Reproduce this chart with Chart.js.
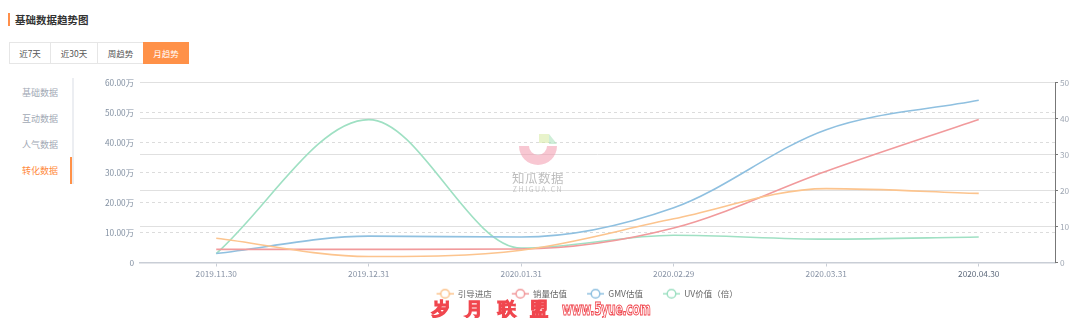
<!DOCTYPE html>
<html>
<head>
<meta charset="utf-8">
<script src="https://cdn.jsdelivr.net/npm/chart.js@4.4.0/dist/chart.umd.min.js"></script>
<style>
  body { margin: 0; width: 1080px; height: 318px; overflow: hidden; background: #fff;
         font-family: "Noto Sans CJK SC", "Noto Sans", sans-serif; position: relative; }
  .title { position: absolute; left: 8px; top: 13px; height: 13px; border-left: 2px solid #ff8f4a;
           padding-left: 5px; font-size: 10.5px; font-weight: bold; color: #333; line-height: 13px; }
  .tabs { position: absolute; left: 9px; top: 42px; display: flex; }
  .tabs div { height: 20px; line-height: 20px; border: 1px solid #e6e6e6; font-size: 8.5px; color: #555;
              text-align: center; margin-left: -1px; }
  .tabs .on { background: #ff9148; border-color: #ff9148; color: #fff; }
  .nav { position: absolute; left: 0; top: 78px; width: 72px; height: 106px; border-right: 2px solid #eceef2; }
  .nav div { position: absolute; left: 22px; font-size: 9px; color: #a2a9b5; }
  .nav .on { color: #ff8a3d; }
  .nav .bar { position: absolute; left: 70px; top: 79px; width: 2px; height: 27px; background: #ff9148; }
  #wrap { position: absolute; left: 90px; top: 72px; width: 990px; height: 236px; }
  .logo { position: absolute; left: 507px; top: 130px; width: 62px; text-align: center; opacity: 0.55; }
  .ring { position: absolute; left: 10px; top: 2px; width: 42px; height: 42px; }
  .logo .t1 { position: absolute; top: 38px; left: 0; width: 62px; font-size: 12.5px; color: #888; letter-spacing: 0.5px; white-space: nowrap; }
  .logo .t2 { position: absolute; top: 54px; left: 0; width: 62px; font-size: 7px; color: #999; letter-spacing: 1.5px; white-space: nowrap; }
  .wm { position: absolute; left: 432px; top: 297px; font-size: 18px; font-weight: bold; color: #fff;
        -webkit-text-stroke: 1.2px #f0464e; white-space: nowrap; font-family: "DejaVu Sans", sans-serif; }
  .wm span { display: inline-block; }
  .wm .url { transform: scaleX(0.6); transform-origin: 0 50%; letter-spacing: -0.5px; }
</style>
</head>
<body>
<div class="title">基础数据趋势图</div>
<div class="tabs">
  <div style="width:40px;margin-left:0">近7天</div>
  <div style="width:46px">近30天</div>
  <div style="width:45px">周趋势</div>
  <div class="on" style="width:44px">月趋势</div>
</div>
<div class="nav">
  <div style="top:8px">基础数据</div>
  <div style="top:34px">互动数据</div>
  <div style="top:60px">人气数据</div>
  <div class="on" style="top:86px">转化数据</div>
  <span class="bar"></span>
</div>
<div id="wrap"><canvas id="trendChart"></canvas></div>
<div class="logo">
  <svg class="ring" viewBox="0 0 42 42">
    <path d="M2 14 A19 19 0 0 0 40 14 L30 14 A9 9 0 0 1 12 14 Z" fill="#f29aae"/>
    <rect x="22" y="2" width="10" height="9" fill="#d6eaa0"/>
    <path d="M32 2 L40 12 L32 12 Z" fill="#a8e0b8"/>
  </svg>
  <div class="t1">知瓜数据</div>
  <div class="t2">ZHIGUA.CN</div>
</div>
<div class="wm"><span style="width:33px">岁</span><span style="width:33px">月</span><span style="width:32px">联</span><span style="width:32px">盟</span><span class="url">www.5yue.com</span></div>
<script>
const labels = ['2019.11.30', '2019.12.31', '2020.01.31', '2020.02.29', '2020.03.31', '2020.04.30'];
const guideVisits = [81000, 20000, 41000, 146000, 247000, 231000];
const salesEst = [44000, 44000, 45000, 115000, 305000, 478000];
const gmvEst = [30000, 88000, 85000, 183000, 444000, 542000];
const uvValue = [2.5, 39.8, 4.0, 7.6, 6.5, 7.1];
const seriesNames = ['引导进店', '销量估值', 'GMV估值', 'UV价值（倍）'];
const seriesColors = ['#fcc48e', '#f19a9c', '#8fc0e0', '#9fe0c3'];

// legend icon: short line with an empty circle, drawn at the right of a wider
// transparent box so that the box also gives the gap between legend items
const ICON_W = 34;
function legendIcon(color) {
    const c = document.createElement('canvas');
    c.width = ICON_W; c.height = 12;
    const g = c.getContext('2d');
    const x0 = ICON_W - 17;
    g.strokeStyle = color;
    g.lineWidth = 1.5;
    g.beginPath(); g.moveTo(x0, 6); g.lineTo(x0 + 17, 6); g.stroke();
    g.fillStyle = '#fff';
    g.beginPath(); g.arc(x0 + 8.5, 6, 4.3, 0, Math.PI * 2); g.fill(); g.stroke();
    return c;
}

const allData = [guideVisits, salesEst, gmvEst, uvValue];
const datasets = allData.map((d, i) => ({
    label: seriesNames[i],
    data: d,
    borderColor: seriesColors[i],
    backgroundColor: seriesColors[i],
    borderWidth: 1.6,
    pointRadius: 0,
    pointStyle: legendIcon(seriesColors[i]),
    cubicInterpolationMode: 'monotone',
    yAxisID: i === 3 ? 'y1' : 'y'
}));

const tickFont = { family: '"Noto Sans CJK SC", sans-serif', size: 8.3 };

new Chart(document.getElementById('trendChart').getContext('2d'), {
    type: 'line',
    data: { labels: labels, datasets: datasets },
    options: {
        responsive: true,
        maintainAspectRatio: false,
        animation: false,
        layout: { padding: { top: 9, bottom: 0 } },
        plugins: {
            tooltip: { enabled: false },
            legend: {
                position: 'bottom',
                labels: {
                    usePointStyle: true,
                    pointStyleWidth: ICON_W,
                    padding: 3,
                    color: '#666',
                    font: { family: '"Noto Sans CJK SC", sans-serif', size: 8.5 },
                    // pad the last label so the visible legend sits centred like the original
                    generateLabels: chart => Chart.defaults.plugins.legend.labels.generateLabels(chart)
                        .map((it, i, arr) => i === arr.length - 1 ? Object.assign(it, { text: it.text + '\u3000\u3000' }) : it)
                }
            }
        },
        scales: {
            x: {
                offset: true,
                grid: { display: true, drawOnChartArea: false, offset: false, tickLength: 4, tickColor: '#c9ced6' },
                border: { color: '#c9ced6', width: 1.5 },
                ticks: {
                    color: ctx => ctx.index === labels.length - 1 ? '#5f6b7d' : '#8994a6',
                    font: tickFont, padding: 2, maxRotation: 0
                },
                afterFit: s => { s.height = 24; }
            },
            y: {
                position: 'left',
                min: 0, max: 600000,
                ticks: {
                    stepSize: 100000,
                    color: '#8290a2',
                    font: tickFont,
                    padding: 6,
                    callback: v => v === 0 ? '0' : (v / 10000).toFixed(2) + '万'
                },
                grid: { color: '#dcdcdc', drawTicks: false },
                border: { display: false, dash: [3, 3] },
                afterFit: s => { s.width = 50; }
            },
            y1: {
                position: 'right',
                min: 0, max: 50,
                ticks: { stepSize: 10, color: '#a0a8b4', font: tickFont, padding: 2 },
                grid: { color: '#e0e0e0', tickColor: '#777', tickLength: 3 },
                border: { color: '#777', width: 1 },
                afterFit: s => { s.width = 25; }
            }
        }
    }
});
</script>
</body>
</html>
